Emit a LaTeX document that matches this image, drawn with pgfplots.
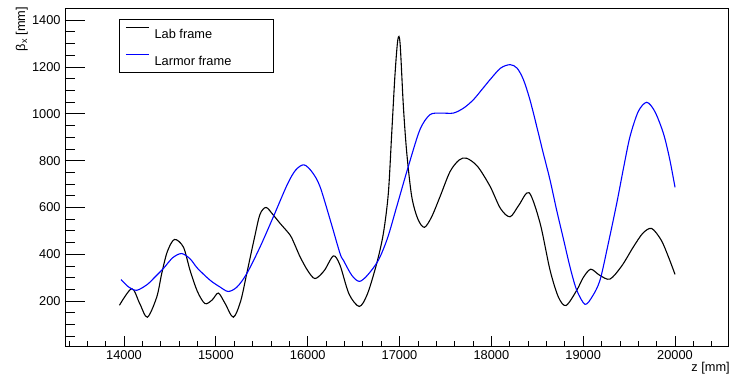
\documentclass[border=0pt]{standalone}
\usepackage{fontspec}
\setmainfont{Liberation Sans}
\usepackage{pgfplots}
\pgfplotsset{compat=1.18}
\pgfplotsset{common/.style={
 at={(65pt,31pt)}, anchor=south west,
 width=663pt, height=338pt, scale only axis,
 xmin=13357, xmax=20577, ymin=8, ymax=1452,
 tick align=inside,
 tick pos=left,
 scaled ticks=false,
 tick style={black, line width=0.8pt},
 ticklabel style={font=\fontsize{12.8}{15}\selectfont},
 /pgf/number format/assume math mode=true,
 /pgf/number format/set thousands separator={},
}}
\begin{document}
\fontsize{12.8}{15}\selectfont
\begin{tikzpicture}[x=1pt,y=1pt]
\path (0,0) rectangle (732,377);
% y ticks with longer tick marks
\begin{axis}[common,
 axis line style={draw=none},
 xtick=\empty,
 ytick={200,400,...,1400},
 minor ytick={50,100,...,1450},
 major tick length=20pt, minor tick length=10pt,
 ylabel={β\textsubscript{x} [mm]},
 every axis y label/.style={at={(axis description cs:-0.065,1.004)}, rotate=90, anchor=east, inner sep=0pt, font=\fontsize{12.8}{15}\selectfont},
]
\end{axis}
\begin{axis}[common,
 axis line style={line width=0.8pt},
 xtick={14000,15000,...,20000},
 ytick=\empty,
 minor xtick={13400,13600,...,20400},
 major tick length=10pt, minor tick length=5pt,
 xlabel={z [mm]},
 every axis x label/.style={at={(axis description cs:1.003,-0.047)}, anchor=north east, inner sep=0pt, font=\fontsize{12.8}{15}\selectfont},
 legend style={at={(axis description cs:0.0814,0.9675)}, anchor=north west, draw=black, line width=0.8pt, fill=white,
   inner xsep=6pt, inner ysep=7pt, row sep=15pt, column sep=5pt,
   nodes={inner sep=0pt, text height=12pt, text depth=0pt, font=\fontsize{12.8}{15}\selectfont}},
 legend cell align=left,
 legend image code/.code={\draw[#1, line width=1.2pt] (0pt,4.6pt) -- (23pt,4.6pt);},
]
\addplot[draw=black, line width=1.1pt, smooth] coordinates {
(13950,182) (14084,253) (14170,190) (14254,131) (14356,217) (14410,317) (14470,410)
(14548,463) (14646,431) (14719,331) (14800,240) (14882,189) (14960,205) (15027,234)
(15100,190) (15190,131) (15270,200) (15336,317) (15420,470) (15480,570) (15546,600)
(15620,570) (15699,532) (15808,482) (15860,440) (15917,389) (16000,330) (16080,296)
(16180,330) (16280,393) (16352,353) (16450,230) (16562,177) (16650,230) (16751,360)
(16824,489) (16878,660) (16915,917) (16951,1170) (16982,1318) (17006,1300) (17042,1031)
(17079,832) (17133,646) (17200,550) (17271,515) (17350,560) (17441,646) (17550,753)
(17650,803) (17732,810) (17850,775) (17986,690) (18100,595) (18204,560) (18300,610)
(18411,663) (18531,532) (18639,332) (18730,217) (18813,181) (18930,246) (19000,300)
(19082,336) (19180,310) (19292,294) (19420,350) (19546,431) (19650,490) (19746,510)
(19850,460) (19928,389) (20000,314)
};
\addlegendentry{\makebox[113pt][l]{Lab frame}}
\addplot[draw=blue, line width=1.1pt, smooth] coordinates {
(13967,292) (14050,260) (14138,246) (14250,270) (14330,300) (14428,339) (14530,385)
(14627,403) (14720,380) (14800,340) (14937,289) (15045,260) (15135,241) (15230,260)
(15336,317) (15480,430) (15626,560) (15780,700) (15870,760) (15960,782) (16050,750)
(16134,689) (16250,540) (16352,403) (16389,374) (16480,310) (16562,284) (16650,310)
(16769,374) (16870,470) (16969,603) (17095,774) (17222,932) (17331,996) (17450,1003)
(17586,1003) (17700,1025) (17804,1060) (17900,1105) (17986,1146) (18100,1195) (18204,1210)
(18280,1195) (18349,1146) (18420,1060) (18494,946) (18560,840) (18639,717) (18710,590)
(18785,465) (18860,340) (18930,246) (19020,186) (19100,220) (19183,289) (19270,440)
(19365,617) (19440,770) (19510,903) (19600,1010) (19692,1049) (19780,1010) (19873,917)
(19940,810) (20000,686)
};
\addlegendentry{\makebox[113pt][l]{Larmor frame}}
\end{axis}
\end{tikzpicture}
\end{document}
